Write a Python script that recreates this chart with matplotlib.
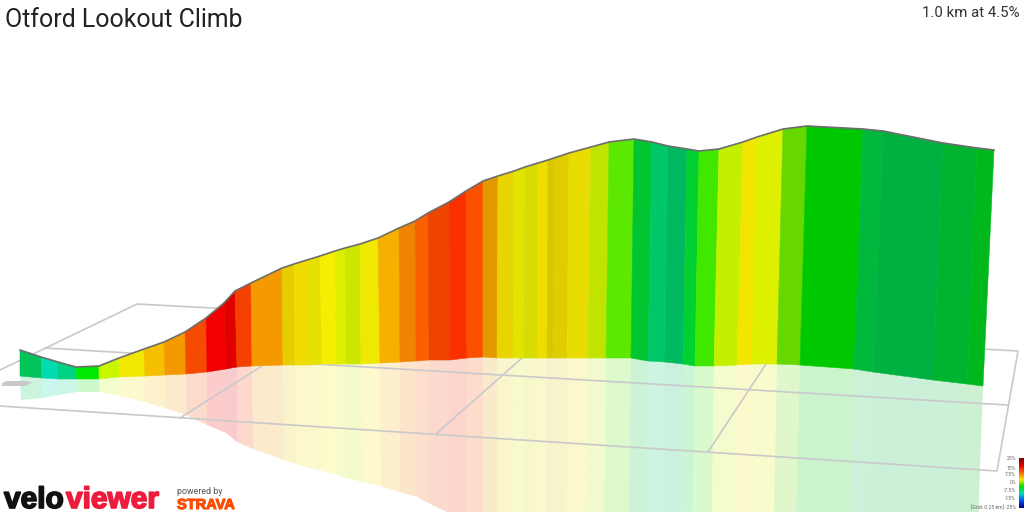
import numpy as np
import matplotlib.pyplot as plt
import matplotlib.patheffects as pe
from matplotlib.colors import LinearSegmentedColormap

# Wall outline, in image pixels
top_x = [20, 41, 58, 76, 99, 119, 144, 164, 185, 206, 224, 235, 251, 282, 294, 307, 320, 335, 345, 360, 378, 399, 415, 428, 449, 466, 483, 498, 514, 525, 538, 548, 554, 569, 591, 609, 634, 652, 668, 687, 699, 719, 743, 757, 783, 807, 863, 883, 943, 977, 994]
top_y = [350, 357, 362, 367, 366, 358, 349, 342, 332, 318, 303, 291, 283, 268, 264, 260, 256, 251, 248, 244, 238, 228, 221, 213, 202, 191, 181, 176, 171, 167, 163, 160, 158, 153, 147, 142, 139, 142, 146, 149, 151, 149, 142, 137, 129, 126, 129, 131, 143, 148, 150]
base_x = [20, 42, 58, 77, 99, 119, 145, 165, 186, 207, 226, 237, 252, 283, 295, 309, 322, 336, 346, 361, 380, 400, 416, 429, 450, 467, 483, 497, 513, 524, 537, 547, 553, 567, 588, 606, 631, 648, 665, 683, 695, 714, 737, 752, 777, 800, 854, 873, 933, 967, 983]
base_y = [376, 378, 379, 379, 379, 377, 376, 375, 374, 372, 369, 367, 366, 365, 365, 365, 364, 364, 364, 364, 363, 362, 361, 360, 360, 358, 357, 358, 358, 358, 358, 358, 358, 358, 358, 358, 358, 361, 362, 364, 366, 366, 365, 364, 364, 365, 369, 372, 380, 384, 386]
refl_x = [21, 42, 59, 77, 100, 120, 145, 165, 186, 207, 226, 237, 253, 284, 296, 310, 322, 337, 346, 363, 381, 400, 417, 428, 449, 466, 483, 497, 512, 523, 535, 546, 552, 566, 586, 604, 628, 645, 662, 680, 692, 711, 733, 748, 773, 795, 849, 868, 928, 962, 977]
refl_y = [400, 398, 395, 392, 392, 396, 402, 408, 415, 425, 433, 442, 449, 460, 464, 468, 471, 475, 478, 482, 486, 492, 497, 503, 513, 520, 526, 530, 534, 536, 538, 540, 541, 544, 548, 552, 556, 556, 556, 556, 556, 556, 556, 556, 556, 556, 556, 556, 556, 556, 556]
band_colors = ["#00c35a", "#00dbb0", "#00d285", "#00e900", "#c8f500", "#f0e800", "#f5c000", "#f49a00", "#f54b00", "#f40000",
               "#e00000", "#f54000", "#f49a00", "#e6cc00", "#f0dc00", "#e6e000", "#f5ee00", "#e0ee00", "#cce600", "#f0e800",
               "#f5b000", "#ef8400", "#fa6000", "#ee4400", "#fa3000", "#fa5000", "#e29a00", "#e8d400", "#e0e400", "#d6dc00",
               "#eede00", "#d6c800", "#e0cc00", "#e8dc00", "#c0e400", "#5ce800", "#00c430", "#00c866", "#00b860", "#00d030",
               "#40e800", "#c4f000", "#f2e600", "#dcf000", "#66d800", "#00c800", "#00b83c", "#00b040", "#00b430", "#00b81c"]

# Ground grid segments
grid_x = [[0, 137, 1018, 997, 0], [45, 1007], [180, 262], [437, 522], [708, 766]]
grid_y = [[370, 304, 351, 471, 406], [348, 405], [418, 366], [433, 358], [452, 364]]

# Small grey start marker
marker_x = [7, 23, 33, 25, 2, 2]
marker_y = [381, 381, 382, 386, 386, 383]

# Colour scale legend
scale_labels = ["25%", "15%", "7.5%", "0%", "-7.5%", "-15%", "[Grid: 0.25 km] -25%"]
scale_label_y = [458, 468, 475, 483, 490, 498, 508]
scale_colors = ["#800000", "#e00000", "#ff6000", "#f5e600", "#00e000", "#00d8c0", "#0050ff", "#000080"]

fig = plt.figure(figsize=(10.24, 5.12), dpi=100)
ax = fig.add_axes([0, 0, 1, 1])
ax.set_xlim(0, 1024)
ax.set_ylim(512, 0)
ax.axis("off")

# Reflection first, grid over it, then the wall
for i, color in enumerate(band_colors):
    ax.fill([base_x[i], base_x[i + 1], refl_x[i + 1], refl_x[i]],
            [base_y[i], base_y[i + 1], refl_y[i + 1], refl_y[i]],
            color=color, alpha=0.2, linewidth=0, zorder=1)

for xs, ys in zip(grid_x, grid_y):
    ax.plot(xs, ys, color="#c9c9cc", linewidth=1.2, zorder=2)

for i, color in enumerate(band_colors):
    ax.fill([top_x[i], top_x[i + 1], base_x[i + 1], base_x[i]],
            [top_y[i], top_y[i + 1], base_y[i + 1], base_y[i]],
            facecolor=color, edgecolor=color, linewidth=0.4, zorder=3)
ax.plot(top_x, top_y, color="#6e6e6e", linewidth=1.2, zorder=4)

ax.fill(marker_x, marker_y, color="#c8c8c8", linewidth=0, zorder=1)

ax.text(5, 20, "Otford Lookout Climb", family="Roboto", fontsize=17.9, color="#222222", va="center", ha="left")
ax.text(1019, 13, "1.0 km at 4.5%", family="Roboto", fontsize=10.8, color="#333333", va="center", ha="right")

# Logo, thickened with a stroke
ax.text(4, 508, "velo", family="Liberation Sans", weight="bold", fontsize=21.5, color="#111111", va="baseline", ha="left",
        path_effects=[pe.withStroke(linewidth=1.2, foreground="#111111")])
ax.text(66, 508, "viewer", family="Liberation Sans", weight="bold", fontsize=21.5, color="#ee1c3c", va="baseline", ha="left",
        path_effects=[pe.withStroke(linewidth=1.2, foreground="#ee1c3c")])
ax.text(177, 494.5, "powered by", family="Roboto", fontsize=6.4, color="#555555", va="baseline", ha="left")
ax.text(177, 509, "STRAVA", family="Liberation Sans", weight="bold", fontsize=10.5, color="#fc4c02", va="baseline", ha="left",
        path_effects=[pe.withStroke(linewidth=0.8, foreground="#fc4c02")])

# Colour scale
cmap = LinearSegmentedColormap.from_list("grade", scale_colors)
ax.imshow(np.linspace(0, 1, 100).reshape(-1, 1), cmap=cmap, extent=[1019, 1024, 508, 458], aspect="auto", zorder=5)
ax.set_xlim(0, 1024)
ax.set_ylim(512, 0)
for label, y in zip(scale_labels, scale_label_y):
    ax.text(1016, y, label, family="Roboto", fontsize=3.7, color="#666666", va="center", ha="right", zorder=5)

plt.savefig("out.png", dpi=100)
